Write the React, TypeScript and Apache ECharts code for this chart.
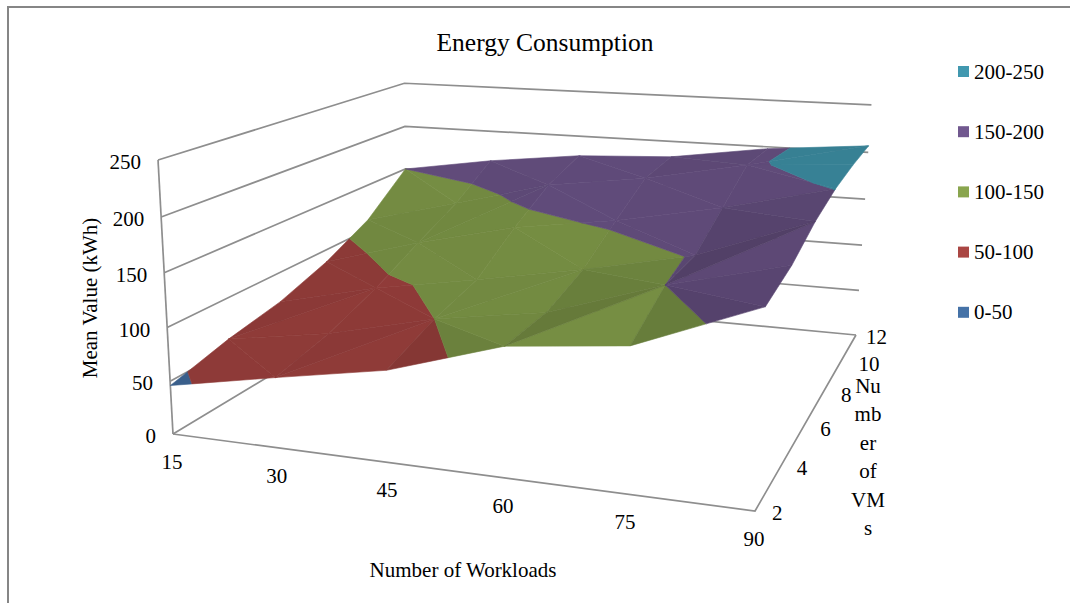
import React, { useEffect, useRef } from "react";
import * as echarts from "echarts";

const chartTitle = "Energy Consumption";
const workloads = [15, 30, 45, 60, 75, 90];
const vms = [2, 4, 6, 8, 10, 12];
const valueTicks = [0, 50, 100, 150, 200, 250];
const depthTitleLines = ["Nu", "mb", "er", "of", "VM", "s"];

// Mean value (kWh) per number of VMs, one value per workload column
const vm2 = [46, 65, 83, 115, 126, 168];
const vm4 = [60, 76, 100, 116, 150, 176];
const vm6 = [70, 93.5, 111, 130, 152, 191];
const vm8 = [87, 116, 140, 155, 175, 200.5];
const vm10 = [111, 137, 164, 178, 198.5, 205];
const vm12 = [150, 166, 178, 183, 198, 207];
const energy = [vm2, vm4, vm6, vm8, vm10, vm12];

// Which diagonal each surface cell folds along (0 "/", 1 "\")
const cellFolds = [
  [1, 0, 1, 0, 1],
  [0, 1, 0, 1, 0],
  [1, 1, 1, 1, 1],
  [1, 0, 1, 1, 1],
  [1, 1, 1, 1, 0],
];

const bandNames = ["0-50", "50-100", "100-150", "150-200", "200-250"];
const bandLows = [0, 50, 100, 150, 200];
const bandHighs = [50, 100, 150, 200, 250];
const bandColors = ["#4572A7", "#AA4643", "#89A54E", "#71588F", "#4198AF"];

const FONT = "Liberation Serif";
const GRID = "#8e8e8e";
const TEXT = "#000000";

// Perspective camera: value-space box (u, v, t in 0..1) to page pixels
function project(u: number, v: number, t: number): [number, number] {
  const w = 1 - 0.1216 * u + 0.3236 * v - 0.047 * t;
  return [
    (173 + 490.2 * u + 365.7 * v - 22.4 * t) / w,
    (434 + 14.9 * u - 46.2 * v - 281.5 * t) / w,
  ];
}

const U = (i: number) => i / (workloads.length - 1);
const V = (j: number) => j / (vms.length - 1);
const T = (value: number) => value / valueTicks[valueTicks.length - 1];

type P3 = [number, number, number]; // u, v, value

function clipBand(tri: P3[], lo: number, hi: number): P3[] {
  const clip = (pts: P3[], limit: number, keepAbove: boolean) => {
    const out: P3[] = [];
    pts.forEach((p, i) => {
      const q = pts[(i + 1) % pts.length];
      const pIn = keepAbove ? p[2] >= limit : p[2] <= limit;
      const qIn = keepAbove ? q[2] >= limit : q[2] <= limit;
      if (pIn) out.push(p);
      if (pIn !== qIn) {
        const s = (limit - p[2]) / (q[2] - p[2]);
        out.push([p[0] + (q[0] - p[0]) * s, p[1] + (q[1] - p[1]) * s, limit]);
      }
    });
    return out;
  };
  return clip(clip(tri, lo, true), hi, false);
}

type Facet = { pts: P3[]; shade: number };

function buildFacets(): Facet[][] {
  const perBand: Facet[][] = bandNames.map(() => []);
  for (let j = vms.length - 2; j >= 0; j--) {
    for (let i = 0; i < workloads.length - 1; i++) {
      const p00: P3 = [U(i), V(j), energy[j][i]];
      const p10: P3 = [U(i + 1), V(j), energy[j][i + 1]];
      const p01: P3 = [U(i), V(j + 1), energy[j + 1][i]];
      const p11: P3 = [U(i + 1), V(j + 1), energy[j + 1][i + 1]];
      const tris: P3[][] = cellFolds[j][i] === 0
        ? [[p00, p10, p11], [p00, p11, p01]]
        : [[p00, p10, p01], [p10, p11, p01]];
      tris.forEach((tri) => {
        const [a, b, c] = tri;
        const ax = b[0] - a[0], ay = b[1] - a[1], az = T(b[2]) - T(a[2]);
        const bx = c[0] - a[0], by = c[1] - a[1], bz = T(c[2]) - T(a[2]);
        const nx = ay * bz - az * by;
        const ny = az * bx - ax * bz;
        const nz = ax * by - ay * bx;
        const dzdu = -nx / nz;
        const dzdv = -ny / nz;
        let shade = Math.max(0.7, Math.min(0.89, 0.875 - 0.2 * dzdu + 0.1 * dzdv));
        if (shade > 0.8) shade = 0.84 + (shade - 0.84) * 0.5;
        bandLows.forEach((lo, b2) => {
          const pts = clipBand(tri, lo, bandHighs[b2]);
          if (pts.length >= 3) perBand[b2].push({ pts, shade });
        });
      });
    }
  }
  return perBand;
}

function darken(hex: string, f: number) {
  const n = parseInt(hex.slice(1), 16);
  const r = Math.round(((n >> 16) & 255) * f);
  const g = Math.round(((n >> 8) & 255) * f);
  const b = Math.round((n & 255) * f);
  return `rgb(${r},${g},${b})`;
}

function gridSegments(): [number, number, number][][] {
  const segs: [number, number, number][][] = [];
  valueTicks.forEach((tick) => {
    const t = T(tick);
    segs.push([[0, 0, t], [0, 1, t], [1, 1, t]]);
  });
  segs.push([[0, 0, 0], [0, 0, 1]]);
  segs.push([[0, 0, 0], [1, 0, 0], [1, 1, 0]]);
  return segs;
}

function textEl(text: string, x: number, y: number, align: string, extra: any = {}) {
  return {
    type: "text",
    x,
    y,
    silent: true,
    style: {
      text,
      fill: TEXT,
      font: `21px "${FONT}"`,
      textAlign: align,
      textVerticalAlign: "middle",
      ...extra,
    },
  };
}

const depthLabelDx = [17, 16, 17, 18, 18, 10];

function buildOption() {
  const facets = buildFacets();
  const segs = gridSegments();
  const texts: any[] = [];
  valueTicks.forEach((tick) => {
    const [x, y] = project(0, 0, T(tick));
    texts.push(textEl(String(tick), x - 17, y + 2, "right"));
  });
  workloads.forEach((w, i) => {
    const [x, y] = project(U(i), 0, 0);
    texts.push(textEl(String(w), x - 1, y + 28, "center"));
  });
  vms.forEach((n, j) => {
    const [x, y] = project(1, V(j), 0);
    texts.push(textEl(String(n), x + depthLabelDx[j], y + 2, "left"));
  });
  texts.push(textEl("Number of Workloads", 463, 570, "center"));
  texts.push({
    ...textEl("Mean Value (kWh)", 0, 0, "center"),
    x: 90,
    y: 298,
    rotation: Math.PI / 2,
  });
  depthTitleLines.forEach((line, i) => {
    texts.push(textEl(line, 868, 386 + i * 28.4, "center"));
  });

  const borders = [
    { type: "line", silent: true, shape: { x1: 7, y1: 7, x2: 1070, y2: 7 }, style: { stroke: "#868686", lineWidth: 2 } },
    { type: "line", silent: true, shape: { x1: 8, y1: 6, x2: 8, y2: 603 }, style: { stroke: "#868686", lineWidth: 2 } },
  ];

  const gridSeries = {
    type: "custom",
    name: "grid",
    coordinateSystem: "none",
    silent: true,
    z: 1,
    data: segs.map((_, i) => [i]),
    renderItem: (_: any, api: any) => {
      const seg = segs[api.value(0)];
      return {
        type: "polyline",
        shape: { points: seg.map((p) => project(p[0], p[1], p[2])) },
        style: { stroke: GRID, lineWidth: 1.7, fill: "none" },
      };
    },
  };

  const surfaceSeries = bandNames.map((name, b) => ({
    type: "custom",
    name,
    coordinateSystem: "none",
    silent: true,
    z: 2,
    itemStyle: { color: bandColors[b] },
    data: facets[b].map((_, i) => [i]),
    renderItem: (_: any, api: any) => {
      const f = facets[b][api.value(0)];
      const color = darken(bandColors[b], f.shade);
      return {
        type: "polygon",
        shape: { points: f.pts.map((p) => project(p[0], p[1], T(p[2]))) },
        style: { fill: color, stroke: color, lineWidth: 0.6 },
      };
    },
  }));

  return {
    animation: false,
    backgroundColor: "#ffffff",
    title: {
      text: chartTitle,
      left: 540,
      top: 24,
      textAlign: "center",
      textStyle: { fontFamily: FONT, fontSize: 25.5, fontWeight: "normal", color: TEXT },
    },
    legend: {
      orient: "vertical",
      left: 953,
      top: 56,
      icon: "rect",
      itemWidth: 11,
      itemHeight: 11,
      itemGap: 39.2,
      selectedMode: false,
      data: [...bandNames].reverse(),
      textStyle: { fontFamily: FONT, fontSize: 21, color: TEXT },
    },
    graphic: [...borders, ...texts],
    series: [gridSeries, ...surfaceSeries],
  };
}

export default function App() {
  const ref = useRef<HTMLDivElement>(null);
  useEffect(() => {
    if (!ref.current) return;
    const chart = echarts.init(ref.current, undefined, { renderer: "svg" });
    chart.setOption(buildOption() as any);
    return () => chart.dispose();
  }, []);
  return <div ref={ref} style={{ position: "fixed", left: 0, top: 0, width: 1070, height: 603 }} />;
}
